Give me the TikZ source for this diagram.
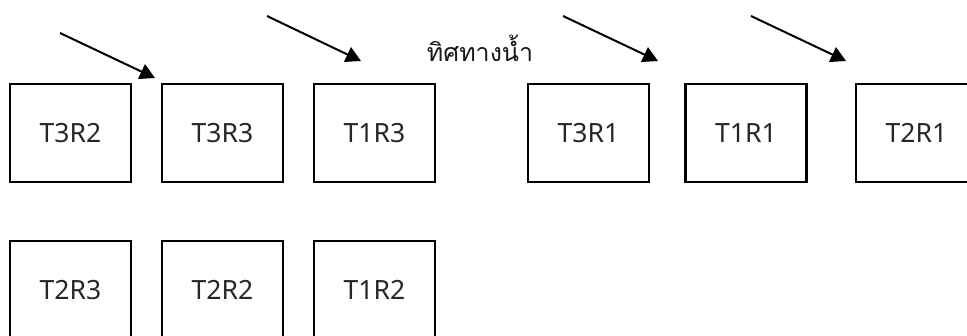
\documentclass[tikz,border=0pt]{standalone}
\usepackage{fontspec}
\usetikzlibrary{arrows.meta}
\newfontfamily\labelfont{Noto Sans}
\newfontfamily\thaifont[Script=Thai]{Loma}
\begin{document}
\begin{tikzpicture}[x=1pt,y=-1pt,
  plot/.style={draw=black,line width=2.4pt,minimum width=121pt,minimum height=98pt,
    inner sep=0pt,font=\labelfont\fontsize{26.5}{30}\selectfont,text=black!85},
  flow/.style={line width=2pt,-{Triangle[length=15pt,width=16pt]}}]
\useasboundingbox (0,0) rectangle (967,336);
% upper row of plots
\node[plot] (t3r2) at (70.5,133) {T3R2};
\node[plot] (t3r3) at (222.5,133) {T3R3};
\node[plot] (t1r3) at (374.5,133) {T1R3};
\node[plot] (t3r1) at (588.5,133) {T3R1};
\node[plot] (t1r1) at (746,133) {T1R1};
\node[plot] (t2r1) at (916.5,133) {T2R1};
% lower row of plots
\node[plot] (t2r3) at (70.5,290) {T2R3};
\node[plot] (t2r2) at (222.5,290) {T2R2};
\node[plot] (t1r2) at (374.5,290) {T1R2};
% water direction label
\node[font=\thaifont\fontsize{25}{30}\selectfont,anchor=base,text=black!90] (dir) at (480,62) {ทิศทางน้ำ};
% flow arrows
\coordinate (a1s) at (60,33);  \coordinate (a1e) at (155,78);
\coordinate (a2s) at (267,16); \coordinate (a2e) at (361,61);
\coordinate (a3s) at (563,16); \coordinate (a3e) at (658,61);
\coordinate (a4s) at (751,16); \coordinate (a4e) at (846,61);
\draw[flow] (a1s) -- (a1e);
\draw[flow] (a2s) -- (a2e);
\draw[flow] (a3s) -- (a3e);
\draw[flow] (a4s) -- (a4e);
\end{tikzpicture}
\end{document}
